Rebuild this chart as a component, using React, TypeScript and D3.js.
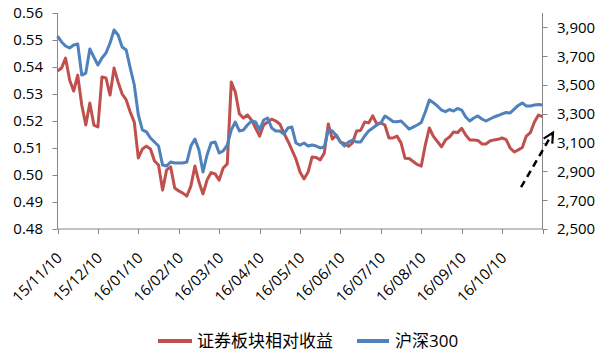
import React from 'react';
import * as d3 from 'd3';

// X tick labels (one per month, 10 samples per month)
const monthLabels = ['15/11/10','15/12/10','16/01/10','16/02/10','16/03/10','16/04/10','16/05/10','16/06/10','16/07/10','16/08/10','16/09/10','16/10/10'];
const samplesPerMonth = 10;

// 证券板块相对收益 (left axis)
const sectorRel = [
0.5385,0.5396,0.5433,0.5352,0.5311,0.5370,0.5259,0.5185,0.5267,0.5185,
0.5178,0.5363,0.5359,0.5296,0.5396,0.5344,0.5300,0.5278,0.5233,0.5196,
0.5063,0.5096,0.5107,0.5096,0.5052,0.5037,0.4944,0.5019,0.5030,0.4952,
0.4941,0.4933,0.4922,0.4959,0.5033,0.4974,0.4930,0.4981,0.5009,0.5004,
0.4981,0.5026,0.5041,0.5344,0.5307,0.5226,0.5211,0.5222,0.5204,0.5174,
0.5144,0.5185,0.5196,0.5207,0.5200,0.5189,0.5156,0.5126,0.5093,0.5059,
0.5011,0.4985,0.5011,0.5067,0.5065,0.5056,0.5081,0.5189,0.5133,0.5148,
0.5122,0.5117,0.5106,0.5119,0.5163,0.5165,0.5196,0.5193,0.5219,0.5189,
0.5193,0.5185,0.5137,0.5137,0.5144,0.5119,0.5062,0.5061,0.5050,0.5039,
0.5033,0.5111,0.5174,0.5143,0.5124,0.5104,0.5130,0.5141,0.5159,0.5157,
0.5173,0.5148,0.5130,0.5130,0.5128,0.5115,0.5115,0.5126,0.5130,0.5132,
0.5137,0.5131,0.5100,0.5085,0.5093,0.5102,0.5144,0.5157,0.5196,0.5222,
0.5216
];

// 沪深300 (right axis)
const hs300 = [
3840,3799,3771,3757,3778,3785,3569,3583,3750,3694,
3639,3688,3722,3792,3882,3847,3764,3743,3618,3500,
3292,3188,3174,3132,3104,3076,2944,2938,2965,2958,
2958,2958,2965,3076,3125,3049,2896,3014,3097,3104,
3028,3042,3083,3188,3243,3181,3188,3222,3250,3243,
3188,3257,3271,3201,3181,3181,3160,3201,3208,3097,
3083,3097,3076,3083,3076,3063,3069,3188,3181,3146,
3104,3076,3104,3118,3104,3104,3146,3181,3201,3222,
3236,3285,3267,3247,3245,3250,3222,3194,3208,3222,
3240,3313,3396,3377,3354,3326,3315,3330,3319,3337,
3326,3278,3250,3271,3285,3264,3250,3264,3278,3288,
3299,3309,3306,3333,3358,3375,3354,3354,3361,3365,
3361
];

const leftTicks = [0.48,0.49,0.50,0.51,0.52,0.53,0.54,0.55,0.56];
const rightTicks = [2500,2700,2900,3100,3300,3500,3700,3900];
const seriesNames = ['证券板块相对收益','沪深300'];
// annotation arrow in data units (sample index, right-axis value)
const arrowFrom = [114.7, 2790];
const arrowTo = [122.6, 3170];

const RED = '#C0504D';
const BLUE = '#4F81BD';
const AXIS = '#868686';
const FONT = "'Open Sans', 'Noto Sans CJK SC', sans-serif";

export default function App() {
  const W = 603, H = 356;
  const left = 57.5, right = 542.5, top = 13, bottom = 229;
  const n = monthLabels.length * samplesPerMonth;
  const x = d3.scaleLinear().domain([0, n]).range([left, right]);
  const yL = d3.scaleLinear().domain([0.48, 0.56]).range([bottom, top]);
  const yR = d3.scaleLinear().domain([2500, 4000]).range([bottom, top]);

  const redLine = d3.line<number>().x((_, i) => x(i)).y(d => yL(d));
  const blueLine = d3.line<number>().x((_, i) => x(i)).y(d => yR(d));

  const xTicks = d3.range(0, n + 1, samplesPerMonth);

  return (
    <svg width={W} height={H} style={{ position: 'absolute', left: 0, top: 0, background: '#fff' }} fontFamily={FONT}>
      <defs>
        <marker id="ah" viewBox="-12 -7 14 14" markerWidth="14" markerHeight="14" refX="0" refY="0" orient="auto" markerUnits="userSpaceOnUse">
          <path d="M-10,-5 L0,0 L-10,5" fill="none" stroke="#000" strokeWidth={2.2} />
        </marker>
      </defs>
      {/* axes */}
      <g stroke={AXIS} strokeWidth={1} fill="none">
        <line x1={left} y1={top} x2={left} y2={bottom} />
        <line x1={right} y1={top} x2={right} y2={bottom} />
        <line x1={left} y1={bottom} x2={right} y2={bottom} />
        {leftTicks.map(t => (
          <line key={'lt' + t} x1={left - 5} x2={left} y1={Math.round(yL(t)) + 0.5} y2={Math.round(yL(t)) + 0.5} />
        ))}
        {rightTicks.map(t => (
          <line key={'rt' + t} x1={right} x2={right + 5} y1={Math.round(yR(t)) + 0.5} y2={Math.round(yR(t)) + 0.5} />
        ))}
        {xTicks.map(t => (
          <line key={'xt' + t} x1={Math.round(x(t)) + 0.5} x2={Math.round(x(t)) + 0.5} y1={bottom} y2={bottom + 5} />
        ))}
      </g>
      {/* left labels */}
      <g fontSize={15} fill="#000" textAnchor="end">
        {leftTicks.map(t => (
          <text key={'ll' + t} x={43} y={yL(t)} dy="0.36em">{d3.format('.2f')(t)}</text>
        ))}
      </g>
      <g fontSize={15} fill="#000" textAnchor="start">
        {rightTicks.map(t => (
          <text key={'rl' + t} x={557} y={yR(t)} dy="0.36em">{d3.format(',')(t)}</text>
        ))}
      </g>
      <g fontSize={15} fill="#000" textAnchor="end">
        {monthLabels.map((m, i) => (
          <text key={m} transform={`translate(${x(i * samplesPerMonth) + 5.5},259) rotate(-45)`}>{m}</text>
        ))}
      </g>
      {/* series */}
      <path d={redLine(sectorRel) || ''} fill="none" stroke={RED} strokeWidth={3} strokeLinejoin="round" />
      <path d={blueLine(hs300) || ''} fill="none" stroke={BLUE} strokeWidth={3} strokeLinejoin="round" />
      {/* arrow */}
      <line x1={x(arrowFrom[0])} y1={yR(arrowFrom[1])} x2={x(arrowTo[0])} y2={yR(arrowTo[1])}
        stroke="#000" strokeWidth={2.5} strokeDasharray="7,5" markerEnd="url(#ah)" />
      {/* legend */}
      <g>
        <line x1={158} x2={192} y1={341} y2={341} stroke={RED} strokeWidth={4} />
        <text x={197} y={347} fontSize={17}>{seriesNames[0]}</text>
        <line x1={357} x2={389} y1={341} y2={341} stroke={BLUE} strokeWidth={4} />
        <text x={395} y={347} fontSize={17}>{seriesNames[1]}</text>
      </g>
    </svg>
  );
}
